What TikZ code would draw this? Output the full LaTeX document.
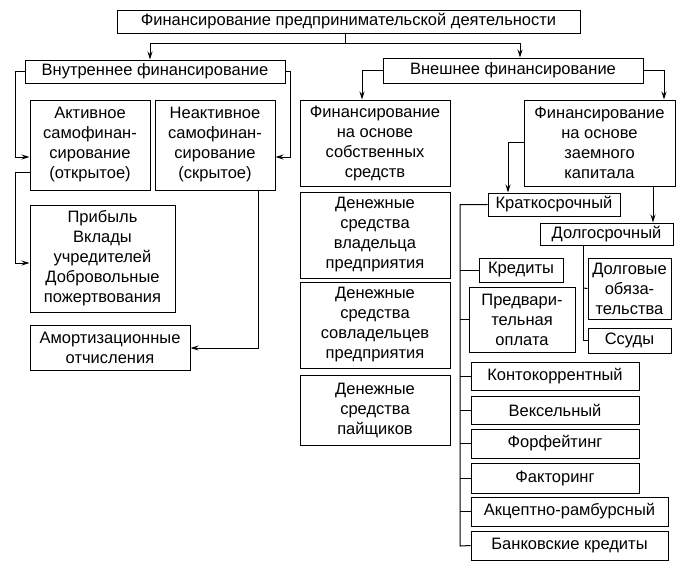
\documentclass[tikz,border=0pt]{standalone}
\usepackage{fontspec}
\setmainfont{Liberation Sans}
\usetikzlibrary{arrows.meta}
\newcommand\bx[6]{\node[bx, minimum width={(#4-#2)*1pt}, minimum height={(#5-#3)*1pt}] (#1) at ({(#2+#4)/2},{(#3+#5)/2}) {#6};}
\begin{document}
\begin{tikzpicture}[x=1pt,y=-1pt,
  bx/.style={draw, line width=1pt, inner sep=0pt, align=center, font=\fontsize{16.5}{20}\selectfont},
  ln/.style={line width=1pt},
  ar/.style={line width=1pt,-{Stealth[length=8pt,width=5pt]}}]
\useasboundingbox (0,0) rectangle (684,563);
\bx{top}{117}{10}{580}{33}{Финансирование предпринимательской деятельности}
\bx{vn}{25}{60}{285}{83}{Внутреннее финансирование}
\bx{akt}{30}{100}{150}{190}{Активное\\самофинан-\\сирование\\(открытое)}
\bx{nakt}{155}{100}{275}{190}{Неактивное\\самофинан-\\сирование\\(скрытое)}
\bx{prib}{30}{205}{175}{312}{Прибыль\\Вклады\\учредителей\\Добровольные\\пожертвования}
\bx{amort}{30}{325}{190}{370}{Амортизационные\\отчисления}
\bx{vnesh}{383}{58}{643}{83}{Внешнее финансирование}
\bx{sobst}{300}{100}{450}{186}{Финансирование\\на основе\\собственных\\средств}
\bx{zaem}{524}{100}{675}{186}{Финансирование\\на основе\\заемного\\капитала}
\bx{vlad}{300}{192}{450}{278}{Денежные\\средства\\владельца\\предприятия}
\bx{sovl}{300}{282}{450}{368}{Денежные\\средства\\совладельцев\\предприятия}
\bx{pai}{300}{375}{450}{445}{Денежные\\средства\\пайщиков}
\bx{kratk}{488}{193}{620}{216}{Краткосрочный}
\bx{dolg}{540}{223}{673}{245}{Долгосрочный}
\bx{dolgob}{588}{258}{671}{319}{Долговые\\обяза-\\тельства}
\bx{ssud}{588}{328}{671}{353}{Ссуды}
\bx{kred}{479}{258}{563}{282}{Кредиты}
\bx{pred}{469}{287}{575}{352}{Предвари-\\тельная\\оплата}
\bx{kont}{471}{362}{639}{390}{Контокоррентный}
\bx{veks}{471}{396}{639}{424}{Вексельный}
\bx{forf}{471}{429}{639}{458}{Форфейтинг}
\bx{fakt}{471}{463}{639}{493}{Факторинг}
\bx{akc}{471}{497}{668}{526}{Акцептно-рамбурсный}
\bx{bank}{471}{531}{668}{560}{Банковские кредиты}
% top
\coordinate (tj) at (345,43);
\draw[ln] (top.south -| tj) -- (tj);
\draw[ar] (tj) -| (vn.north -| 150,0);
\draw[ar] (tj) -| (vnesh.north -| 520,0);
% internal
\draw[ar] (vn.west) -- (15,71.5) |- (akt.west |- 0,157);
\draw[ar] (vn.east) -- (290,71.5) |- (nakt.east |- 0,157);
\draw[ar] (akt.west |- 0,172) -- (15,172) |- (prib.west |- 0,263);
\draw[ar] (nakt.south -| 258,0) |- (amort.east |- 0,348);
% external
\draw[ar] (vnesh.west) -| (sobst.north -| 362,0);
\draw[ar] (vnesh.east) -| (zaem.north -| 664,0);
\draw[ar] (zaem.west |- 0,142) -| (kratk.north -| 508,0);
\draw[ar] (zaem.south -| 653,0) -- (dolg.north -| 653,0);
% long-term
\draw[ln] (dolg.south -| 583,0) |- (ssud.west);
\draw[ln] (583,288) -- (dolgob.west);
% short-term
\draw[ln] (kratk.west) -| (460,546) -- (bank.west);
\foreach \n in {kred,pred,kont,veks,forf,fakt,akc}
  \draw[ln] (460,0 |- \n.west) -- (\n.west);
\end{tikzpicture}
\end{document}
